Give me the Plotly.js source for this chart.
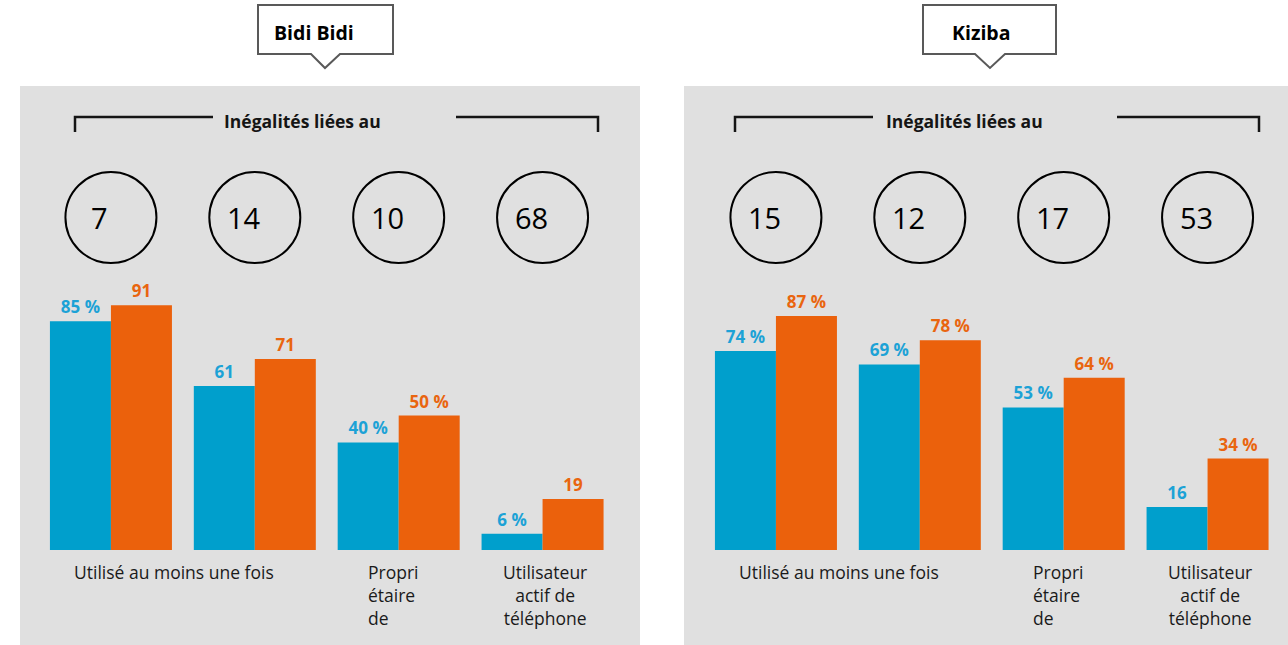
<!DOCTYPE html>
<html>
<head>
<meta charset="utf-8">
<script src="https://cdn.plot.ly/plotly-3.0.1.min.js"></script>
<style>
body { margin: 0; background: #fff; }
#chart { width: 1288px; height: 645px; }
</style>
</head>
<body>
<div id="chart"></div>
<script>
// categories (the second one has no label in the source)
var categories = ["Utilisé au moins une fois", "", "Propri<br>étaire<br>de", "Utilisateur<br>actif de<br>téléphone"];

// Bidi Bidi
var bidiBlue = [85, 61, 40, 6];
var bidiOrange = [91, 71, 50, 19];
var bidiBlueText = ["85 %", "61", "40 %", "6 %"];
var bidiOrangeText = ["91", "71", "50 %", "19"];
var bidiGaps = [7, 14, 10, 68];

// Kiziba
var kizBlue = [74, 69, 53, 16];
var kizOrange = [87, 78, 64, 34];
var kizBlueText = ["74 %", "69 %", "53 %", "16"];
var kizOrangeText = ["87 %", "78 %", "64 %", "34 %"];
var kizGaps = [15, 12, 17, 53];

var panelTitles = ["Bidi Bidi", "Kiziba"];
var bracketText = "Inégalités liées au";

var W = 1288, H = 645;
function px(x) { return x / W; }
function py(y) { return 1 - y / H; }

var font = "Open Sans, Liberation Sans, Arial, sans-serif";
var blue = "#009FCC", orange = "#EB610C";
var blueTxt = "#1CA2D6", orangeTxt = "#E9650F";
var ink = "#151515";

var idx = categories.map(function (c, i) { return i; });

function bars(vals, txt, col, tcol, xa, ya) {
	return {
		type: "bar",
		x: idx,
		y: vals,
		text: txt,
		textposition: "outside",
		textangle: 0,
		constraintext: "none",
		cliponaxis: false,
		textfont: { family: font, size: 17, color: tcol, weight: 700 },
		marker: { color: col, line: { width: 0 } },
		xaxis: xa,
		yaxis: ya,
		hoverinfo: "skip"
	};
}

var data = [
	bars(bidiBlue, bidiBlueText, blue, blueTxt, "x", "y"),
	bars(bidiOrange, bidiOrangeText, orange, orangeTxt, "x", "y"),
	bars(kizBlue, kizBlueText, blue, blueTxt, "x2", "y2"),
	bars(kizOrange, kizOrangeText, orange, orangeTxt, "x2", "y2")
];

// panel decorations (pixel positions)
var panels = [
	{ xa: "x", gaps: bidiGaps, bg: [20, 640], bracket: [75, 213, 456, 598], bracketMid: 302,
	  box: [258, 393], tip: [311, 325, 340], titleX: 314 },
	{ xa: "x2", gaps: kizGaps, bg: [684, 1288], bracket: [735, 873, 1117, 1259], bracketMid: 964,
	  box: [923, 1056], tip: [975, 990, 1005], titleX: 981 }
];

// label placement per category: anchor + pixel shift from group center
var labelAlign = ["center", "center", "left", "center"];
var labelShift = [63, 0, -33, 2];

var shapes = [], annotations = [];

panels.forEach(function (p, k) {
	shapes.push({ type: "rect", xref: "paper", yref: "paper", layer: "below",
		x0: px(p.bg[0]), x1: px(p.bg[1]), y0: 0, y1: py(86),
		fillcolor: "#E0E0E0", line: { width: 0 } });

	var b = p.bracket;
	shapes.push({ type: "path", xref: "paper", yref: "paper",
		path: "M" + px(b[0]) + "," + py(132) + " L" + px(b[0]) + "," + py(117) + " L" + px(b[1]) + "," + py(117) +
			" M" + px(b[2]) + "," + py(117) + " L" + px(b[3]) + "," + py(117) + " L" + px(b[3]) + "," + py(132),
		line: { color: ink, width: 2.5 } });
	annotations.push({ xref: "paper", yref: "paper", x: px(p.bracketMid), y: py(121),
		xanchor: "center", yanchor: "middle", showarrow: false, text: "<b>" + bracketText + "</b>",
		font: { family: font, size: 17.5, color: ink } });

	// callout box
	var bx = p.box, t = p.tip;
	shapes.push({ type: "path", xref: "paper", yref: "paper",
		path: "M" + px(bx[0]) + "," + py(5) + " L" + px(bx[1]) + "," + py(5) + " L" + px(bx[1]) + "," + py(54) +
			" L" + px(t[2]) + "," + py(54) + " L" + px(t[1]) + "," + py(68) + " L" + px(t[0]) + "," + py(54) +
			" L" + px(bx[0]) + "," + py(54) + " Z",
		fillcolor: "#fff", line: { color: "#595959", width: 2 } });
	annotations.push({ xref: "paper", yref: "paper", x: px(p.titleX), y: py(32),
		xanchor: "center", yanchor: "middle", showarrow: false, text: "<b>" + panelTitles[k] + "</b>",
		font: { family: font, size: 19.5, color: "#000" } });

	// inequality circles
	p.gaps.forEach(function (g, i) {
		shapes.push({ type: "circle", xref: p.xa, xsizemode: "pixel", xanchor: i, x0: -45.5, x1: 45.5,
			yref: "paper", y0: py(263), y1: py(172), line: { color: "#000", width: 2 } });
		annotations.push({ xref: p.xa, yref: "paper", x: i, xshift: -11, y: py(217),
			xanchor: "center", yanchor: "middle", showarrow: false, text: String(g),
			font: { family: font, size: 29, color: "#000" } });
	});

	// category labels
	categories.forEach(function (c, i) {
		if (!c) return;
		annotations.push({ xref: p.xa, yref: "paper", x: i, xshift: labelShift[i],
			y: py(558), xanchor: labelAlign[i], yanchor: "top", align: labelAlign[i], showarrow: false,
			text: c, font: { family: font, size: 17.5, color: "#1a1a1a" } });
	});
});

var yr = [0, 550 / 2.69];
var layout = {
	width: W,
	height: H,
	autosize: false,
	margin: { l: 0, r: 0, t: 0, b: 0, pad: 0 },
	paper_bgcolor: "#fff",
	plot_bgcolor: "rgba(0,0,0,0)",
	showlegend: false,
	barmode: "group",
	bargap: 0.152,
	bargroupgap: 0,
	xaxis: { domain: [px(39), px(614.5)], range: [-0.5, 3.5], visible: false, fixedrange: true },
	yaxis: { domain: [py(550), 1], range: yr, visible: false, fixedrange: true },
	xaxis2: { domain: [px(704), px(1279.5)], range: [-0.5, 3.5], visible: false, anchor: "y2", fixedrange: true },
	yaxis2: { domain: [py(550), 1], range: yr, visible: false, anchor: "x2", fixedrange: true },
	shapes: shapes,
	annotations: annotations
};

Plotly.newPlot("chart", data, layout, { displayModeBar: false, staticPlot: true });
</script>
</body>
</html>
